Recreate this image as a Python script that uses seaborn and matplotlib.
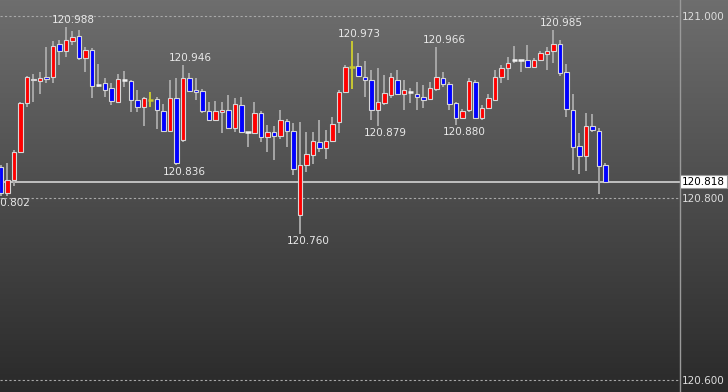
import numpy as np
import pandas as pd
import matplotlib
matplotlib.use("Agg")
import matplotlib.pyplot as plt
import matplotlib.transforms as mtransforms
from matplotlib.colors import LinearSegmentedColormap
import seaborn as sns

# ---------------- data ----------------
opens = [120.834, 120.806, 120.820, 120.851, 120.904, 120.931, 120.929, 120.933, 120.933, 120.969,
         120.961, 120.973, 120.978, 120.954, 120.963, 120.924, 120.926, 120.921, 120.906, 120.930,
         120.929, 120.908, 120.900, 120.908, 120.909, 120.896, 120.874, 120.910, 120.864, 120.932,
         120.919, 120.918, 120.896, 120.886, 120.895, 120.897, 120.877, 120.902, 120.872, 120.871,
         120.893, 120.867, 120.873, 120.868, 120.885, 120.874, 120.781, 120.836, 120.847, 120.862,
         120.855, 120.863, 120.883, 120.917, 120.944, 120.945, 120.933, 120.930, 120.897, 120.904,
         120.913, 120.930, 120.914, 120.917, 120.914, 120.911, 120.909, 120.920, 120.932, 120.925,
         120.904, 120.888, 120.897, 120.928, 120.888, 120.899, 120.908, 120.933, 120.943, 120.952,
         120.952, 120.952, 120.944, 120.952, 120.958, 120.961, 120.969, 120.938, 120.897, 120.857,
         120.846, 120.879, 120.874, 120.836]
highs = [120.836, 120.838, 120.853, 120.906, 120.934, 120.936, 120.939, 120.966, 120.972, 120.974,
         120.988, 120.983, 120.985, 120.966, 120.965, 120.947, 120.932, 120.926, 120.936, 120.940,
         120.930, 120.919, 120.911, 120.917, 120.911, 120.903, 120.930, 120.932, 120.946, 120.937,
         120.932, 120.920, 120.906, 120.907, 120.906, 120.913, 120.910, 120.911, 120.873, 120.906,
         120.896, 120.880, 120.879, 120.897, 120.887, 120.882, 120.883, 120.873, 120.872, 120.886,
         120.875, 120.889, 120.919, 120.946, 120.973, 120.959, 120.950, 120.941, 120.943, 120.935,
         120.937, 120.941, 120.930, 120.921, 120.928, 120.924, 120.928, 120.966, 120.939, 120.927,
         120.906, 120.898, 120.932, 120.930, 120.902, 120.914, 120.941, 120.946, 120.955, 120.967,
         120.952, 120.968, 120.954, 120.962, 120.966, 120.985, 120.974, 120.947, 120.914, 120.871,
         120.893, 120.892, 120.877, 120.838]
lows = [120.802, 120.802, 120.813, 120.850, 120.900, 120.905, 120.914, 120.926, 120.926, 120.946,
        120.955, 120.968, 120.952, 120.939, 120.910, 120.922, 120.911, 120.902, 120.906, 120.922,
        120.894, 120.894, 120.879, 120.900, 120.876, 120.873, 120.874, 120.836, 120.862, 120.916,
        120.908, 120.893, 120.885, 120.885, 120.871, 120.876, 120.873, 120.872, 120.856, 120.870,
        120.862, 120.851, 120.842, 120.865, 120.856, 120.825, 120.760, 120.829, 120.837, 120.851,
        120.843, 120.861, 120.871, 120.916, 120.920, 120.933, 120.911, 120.886, 120.879, 120.902,
        120.910, 120.913, 120.897, 120.904, 120.897, 120.899, 120.908, 120.918, 120.922, 120.897,
        120.880, 120.887, 120.895, 120.887, 120.886, 120.898, 120.907, 120.926, 120.930, 120.948,
        120.939, 120.944, 120.943, 120.950, 120.941, 120.948, 120.934, 120.889, 120.831, 120.826,
        120.830, 120.873, 120.804, 120.817]
closes = [120.805, 120.820, 120.851, 120.904, 120.933, 120.930, 120.932, 120.931, 120.967, 120.962,
          120.974, 120.977, 120.954, 120.963, 120.923, 120.924, 120.919, 120.907, 120.931, 120.930,
          120.908, 120.900, 120.910, 120.908, 120.897, 120.874, 120.910, 120.838, 120.932, 120.918,
          120.917, 120.896, 120.886, 120.896, 120.897, 120.877, 120.903, 120.873, 120.872, 120.893,
          120.867, 120.873, 120.868, 120.886, 120.874, 120.832, 120.836, 120.848, 120.863, 120.855,
          120.863, 120.881, 120.917, 120.944, 120.944, 120.934, 120.930, 120.897, 120.905, 120.915,
          120.933, 120.914, 120.919, 120.917, 120.911, 120.908, 120.921, 120.933, 120.925, 120.903,
          120.888, 120.896, 120.929, 120.888, 120.899, 120.910, 120.933, 120.943, 120.948, 120.952,
          120.952, 120.944, 120.952, 120.959, 120.962, 120.969, 120.937, 120.898, 120.856, 120.846,
          120.879, 120.875, 120.835, 120.818]
highlight_bars = [23, 54]

high_label_idx = [10, 28, 54, 67, 85]
high_label_val = [120.988, 120.946, 120.973, 120.966, 120.985]
low_label_idx = [0, 27, 46, 58, 70]
low_label_val = [120.802, 120.836, 120.760, 120.879, 120.880]

grid_levels = [121.000, 120.800, 120.600]
last_price = 120.818

df = pd.DataFrame({"open": opens, "high": highs, "low": lows, "close": closes})
df["x"] = np.arange(len(df))

# ---------------- style ----------------
sns.set_theme(style="dark")
plt.rcParams["font.family"] = ["DejaVu Sans"]

W, H = 728, 392
fig = plt.figure(figsize=(W / 100, H / 100), dpi=100)

# background gradient
bg = fig.add_axes([0, 0, 1, 1], zorder=0)
cmap = LinearSegmentedColormap.from_list("g", ["#6e6e6e", "#2a2a2a"])
grad = np.linspace(0, 1, 256).reshape(-1, 1)
bg.imshow(grad, aspect="auto", cmap=cmap, extent=[0, 1, 0, 1], origin="upper")
bg.set_axis_off()

axw = 680 / W
ax = fig.add_axes([0, 0, axw, 1], zorder=1)
ax.patch.set_alpha(0)

px_per_bar = 6.5
ppu = 910.0
ax.set_xlim(-1 / px_per_bar, 679 / px_per_bar)
ax.set_ylim(121 - (H - 16) / ppu, 121 + 16 / ppu)

# grid lines
for g in grid_levels:
    ax.axhline(g, color="#a8a8a8", lw=0.8, ls=(0, (2, 2)), zorder=1)

# current price line
ax.axhline(last_price, color="#d4d4d4", lw=1.2, zorder=1.5)

is_doji = df["open"] == df["close"]
hl = df.index.isin(highlight_bars)

# wicks
wick_colors = np.where(hl, "#c8c832", "#a6a6a6")
ax.vlines(df["x"], df["low"], df["high"], colors=wick_colors, lw=1.4, zorder=2)

# bodies
body = df[~is_doji]
bcol = np.where(body["close"] > body["open"], "#ff0000", "#0000ff")
ax.bar(body["x"], (body["close"] - body["open"]).abs(),
       bottom=np.minimum(body["open"], body["close"]),
       width=0.68, color=bcol, edgecolor="#d6d6d6", linewidth=0.8, zorder=3)

# doji ticks
dj = df[is_doji]
dcol = np.where(dj.index.isin(highlight_bars), "#c8c832", "#f2f2f2")
ax.hlines(dj["open"], dj["x"] - 0.4, dj["x"] + 0.4, colors=dcol, lw=1.8, zorder=3)

# high / low labels
lab_kw = dict(color="#e8e8e8", fontsize=7.5, textcoords="offset pixels", ha="center")
for i, v in zip(high_label_idx, high_label_val):
    ax.annotate(f"{v:.3f}", xy=(i + 1.2, highs[i]), xytext=(0, 2), va="bottom", **lab_kw)
for i, v in zip(low_label_idx, low_label_val):
    ax.annotate(f"{v:.3f}", xy=(i + 1.2, lows[i]), xytext=(0, -2), va="top", **lab_kw)

# right axis
for s in ["left", "top", "bottom"]:
    ax.spines[s].set_visible(False)
ax.spines["right"].set_color("#9a9a9a")
ax.spines["right"].set_linewidth(1.0)
ax.yaxis.tick_right()
ax.set_yticks(grid_levels)
ax.set_yticklabels([f"{g:.3f}" for g in grid_levels])
ax.tick_params(axis="y", length=0, pad=1.5, labelsize=7.5, labelcolor="#dcdcdc")
ax.set_xticks([])
ax.grid(False)

# current price box
trans = mtransforms.blended_transform_factory(ax.transAxes, ax.transData)
ax.text(1.0 + 2 / 680, last_price, f"{last_price:.3f}", transform=trans,
        ha="left", va="center", fontsize=7.5, color="black", zorder=5,
        bbox=dict(boxstyle="square,pad=0.15", fc="white", ec="#9a9a9a", lw=0.8),
        clip_on=False)

fig.savefig("out.png", dpi=100)
